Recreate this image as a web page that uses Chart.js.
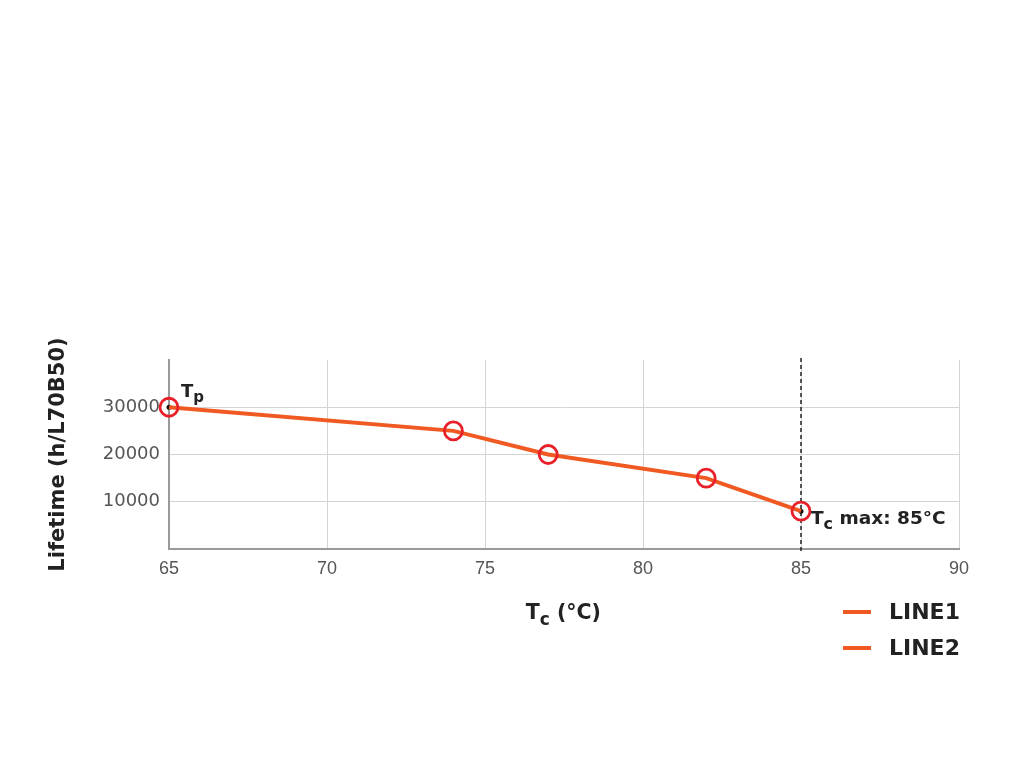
<!DOCTYPE html>
<html>
<head>
<meta charset="utf-8">
<script src="https://cdn.jsdelivr.net/npm/chart.js@4/dist/chart.umd.min.js"></script>
<style>
  html, body { margin: 0; padding: 0; background: #fff; }
  #wrap { width: 1024px; height: 768px; position: relative; }
</style>
</head>
<body>
<div id="wrap"><canvas id="c"></canvas></div>
<script>
// data
const tempsC = [65, 74, 77, 82, 85];
const lifetimeH = [30000, 25000, 20000, 15000, 8000];
const markerTemps = [65, 85];
const markerLife = [30000, 8000];
const xTicks = [65, 70, 75, 80, 85, 90];
const yTicks = [10000, 20000, 30000];
const seriesNames = ['LINE1', 'LINE2'];
const TC_MAX = 85;

const ORANGE = '#f05a22';
const FONT = '"DejaVu Sans", sans-serif';
const FONT2 = '"Liberation Sans", Arial, sans-serif';

// text with a subscript, e.g. T + c
function subText(ctx, x, y, main, sub, rest, size) {
  ctx.font = 'bold ' + size + 'px ' + FONT;
  ctx.fillText(main, x, y);
  x += ctx.measureText(main).width;
  ctx.font = 'bold ' + Math.round(size * 0.85) + 'px ' + FONT;
  ctx.fillText(sub, x, y + size * 0.28);
  x += ctx.measureText(sub).width;
  if (rest) {
    ctx.font = 'bold ' + size + 'px ' + FONT;
    ctx.fillText(rest, x, y);
  }
}

const extras = {
  id: 'extras',
  beforeDatasetsDraw(chart) {
    const {ctx, chartArea, scales} = chart;
    const x = scales.x.getPixelForValue(TC_MAX);
    ctx.save();
    ctx.strokeStyle = '#222';
    ctx.lineWidth = 1.5;
    ctx.setLineDash([4, 3]);
    ctx.beginPath();
    ctx.moveTo(x, chartArea.top - 2);
    ctx.lineTo(x, chartArea.bottom + 4);
    ctx.stroke();
    ctx.restore();
  },
  afterDraw(chart) {
    const {ctx, chartArea, scales} = chart;
    ctx.save();
    ctx.fillStyle = '#222';
    ctx.textBaseline = 'alphabetic';
    ctx.textAlign = 'left';
    // Tp label
    let px = scales.x.getPixelForValue(markerTemps[0]);
    let py = scales.y.getPixelForValue(markerLife[0]);
    subText(ctx, px + 12, py - 10, 'T', 'p', '', 18);
    // Tc max label
    px = scales.x.getPixelForValue(markerTemps[1]);
    py = scales.y.getPixelForValue(markerLife[1]);
    subText(ctx, px + 10, py + 13, 'T', 'c', ' max: ' + TC_MAX + '°C', 18.5);
    // x axis title
    ctx.font = 'bold 20px ' + FONT;
    const w = ctx.measureText('T (°C)').width + 13;
    const cx = (chartArea.left + chartArea.right) / 2;
    subText(ctx, cx - w / 2, 619, 'T', 'c', ' (°C)', 20.5);
    // legend
    chart.data.datasets.forEach((ds, i) => {
      const ly = 612 + i * 36;
      ctx.fillStyle = ds.borderColor;
      ctx.fillRect(843, ly - 2, 28, 4);
      ctx.fillStyle = '#222';
      ctx.font = 'bold 22px ' + FONT;
      ctx.textBaseline = 'middle';
      ctx.fillText(ds.label, 889, ly + 1);
    });
    ctx.restore();
  }
};

new Chart(document.getElementById('c'), {
  type: 'line',
  data: {
    datasets: [{
      label: seriesNames[0],
      data: tempsC.map((t, i) => ({x: t, y: lifetimeH[i]})),
      borderColor: ORANGE,
      borderWidth: 4,
      pointRadius: 9,
      pointBorderWidth: 2.8,
      pointBorderColor: '#e8202a',
      pointBackgroundColor: 'rgba(255,255,255,0)',
      tension: 0,
      clip: false
    }, {
      label: seriesNames[1],
      data: markerTemps.map((t, i) => ({x: t, y: markerLife[i]})),
      borderColor: ORANGE,
      showLine: false,
      pointRadius: 2.5,
      pointBorderWidth: 0,
      pointBackgroundColor: '#111',
      clip: false
    }]
  },
  options: {
    responsive: true,
    maintainAspectRatio: false,
    animation: false,
    layout: { padding: { top: 360, right: 65, left: 0, bottom: 0 } },
    plugins: { legend: { display: false }, tooltip: { enabled: false } },
    scales: {
      x: {
        type: 'linear',
        min: 65, max: 90,
        afterBuildTicks: s => { s.ticks = xTicks.map(v => ({value: v})); },
        afterFit: s => { s.height = 219; },
        grid: { color: '#d4d4d4', lineWidth: 1, drawTicks: false },
        border: { color: '#9a9a9a', width: 2 },
        ticks: { color: '#555', font: { family: FONT2, size: 18 }, padding: 9 }
      },
      y: {
        min: 0, max: 40000,
        afterBuildTicks: s => { s.ticks = [0].concat(yTicks, [40000]).map(v => ({value: v})); },
        afterFit: s => { s.width = 169; },
        grid: {
          color: c => (c.tick && (c.tick.value === 40000)) ? 'rgba(0,0,0,0)' : '#d4d4d4',
          lineWidth: 1, drawTicks: false
        },
        border: { color: '#9a9a9a', width: 2 },
        ticks: {
          color: '#555', font: { family: FONT, size: 18 }, padding: 9,
          callback: v => yTicks.includes(v) ? String(v) : ''
        },
        title: {
          display: true, text: 'Lifetime (h/L70B50)', color: '#222',
          font: { family: FONT, size: 21, weight: 'bold' },
          padding: { top: 46 }
        }
      }
    }
  },
  plugins: [extras]
});
</script>
</body>
</html>
